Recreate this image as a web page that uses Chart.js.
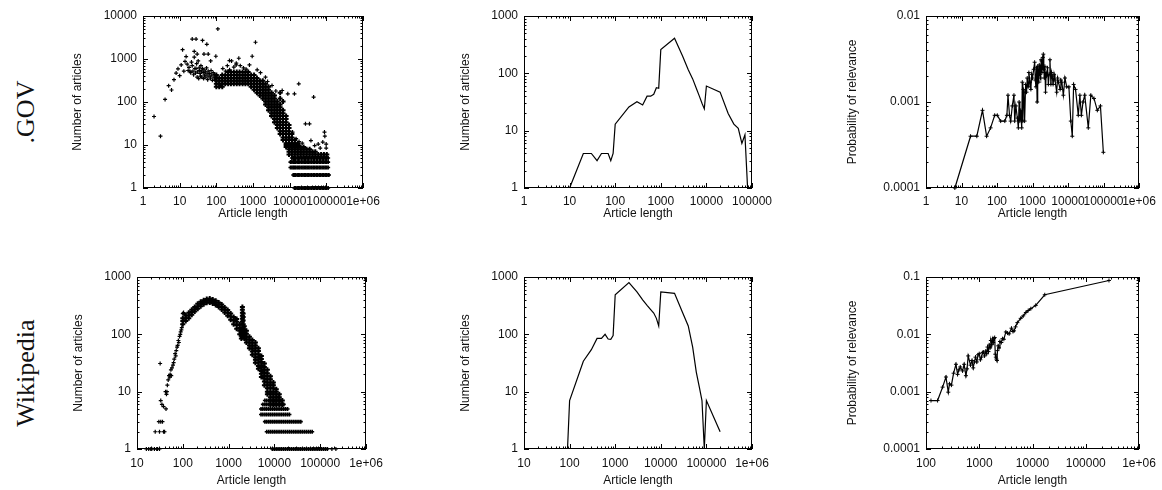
<!DOCTYPE html>
<html>
<head>
<meta charset="utf-8">
<script src="https://cdn.jsdelivr.net/npm/chart.js@4/dist/chart.umd.min.js"></script>
<style>
  body { margin: 0; background: #fff; width: 1162px; height: 490px; position: relative; overflow: hidden; }
  canvas { position: absolute; }
  .row { position: absolute; font-family: "Liberation Serif", serif; font-size: 26px; line-height: 26px;
         white-space: nowrap; color: #111; transform: translate(-50%, -50%) rotate(-90deg); }
</style>
</head>
<body>
<div class="row" style="left:26px; top:112px">.GOV</div>
<div class="row" style="left:26px; top:373px">Wikipedia</div>
<canvas id="govHist"></canvas>
<canvas id="govBins"></canvas>
<canvas id="govProb"></canvas>
<canvas id="wikiHist"></canvas>
<canvas id="wikiBins"></canvas>
<canvas id="wikiProb"></canvas>
<script>
// ---- data ----

// .GOV: articles per length (scatter). isolated points [length, count]
var govSparse = [[2,46],[3,16],[4,115],[5,240],[6,190],[7,330],[8,470],[9,590],[10,410],[11,730],[12,1650],[13,520],
  [14,880],[15,1140],[16,760],[17,540],[18,640],[19,520],[20,480],[21,850],[22,2900],[22,700],[23,520],[24,430],
  [25,1500],[25,1100],[26,600],[27,470],[28,2900],[28,600],[29,780],[30,1300],[30,380],[31,500],[32,900],[33,350],
  [34,620],[35,540],[36,460],[37,400],[38,700],[39,520],[40,380],[42,2700],[42,600],[44,480],[45,350],[46,1300],
  [46,560],[48,420],[50,500],[52,380],[54,620],[55,2200],[56,450],[58,330],[60,1300],[60,520],[63,400],[66,460],
  [69,360],[70,900],[72,540],[75,420],[78,320],[82,480],[86,380],[90,440],[94,330],[97,1160],[98,400],[110,5000],
  [133,242],[150,600],[180,520],[200,700],[228,920],[230,560],[260,900],[300,650],[347,730],[350,800],[410,1040],
  [450,700],[550,620],[650,580],[800,730],[950,1160],[1170,2450],[1300,560],[1600,480],[2190,378],[2500,300],
  [3300,242],[4200,180],[6250,185],[8890,155],[13500,155],[17700,264],[45000,130],[12000,20],[15000,14],[18000,12],
  [22000,11],[27000,31],[34700,31],[38000,12.7],[48000,9.7],[60000,10.5],[68000,8.5],[80000,11.7],[89000,20],
  [91000,16],[99000,10.5],[99000,8.5]];
// dense body: [length, counts seen at that length]
var govBody = [
  [100,[226,265,310,363,425]],[120,[226,265,310,363]],[145,[226,265,310,363,425]],[175,[265,310,363,425]],
  [210,[265,310,363,425,497]],[250,[265,310,363,425,497]],[300,[265,310,363,425,497]],[360,[265,310,363,425,497]],
  [430,[265,310,363,425,497]],[520,[265,310,363,425,497]],[620,[265,310,363,425,497]],[740,[265,310,363,425,497]],
  [890,[226,265,310,363,425]],[1070,[193,226,265,310,363,425]],[1280,[165,193,226,265,310,363]],
  [1540,[141,165,193,226,265,310]],[1850,[120,141,165,193,226,265,310]],[2200,[88,103,120,141,165,193,226,265]],
  [2650,[64,75,88,103,120,141,165,193,226]],[3200,[47,55,64,75,88,103,120,141,165]],
  [3850,[34,40,47,55,64,75,88,103,120,141]],[4600,[25,29,34,40,47,55,64,75,88,103]],
  [5500,[18,21,25,29,34,40,47,55,64,75,88,120,165]],[6600,[13,15,18,21,25,29,34,40,47,55,64,103]],
  [8000,[9,10,11,13,15,18,21,25,29,34,40,47]],[9600,[6,7,8,9,10,11,13,15,18,21,25,29]],
  [11500,[6,7,8,9,10,11,13,15,18]],[13800,[6,7,8,9,10,11,13]],[16600,[6,7,8,9,10,11]],[20000,[6,7,8,9]],
  [24000,[6,7,8,9]],[29000,[6,7,8]],[35000,[6,7,8]],[42000,[6,7]],[50000,[6,7]],[60000,[6]],[72000,[6]],
  [86000,[6]],[103000,[6]]];
// long articles: horizontal bands at small integer counts [count, from length, to length]
var govBandLengths = [10500,11500,12500,13500,14500,16000,17500,19000,21000,23000,25000,27500,30000,33000,36000,
  40000,44000,48000,53000,58000,64000,70000,77000,85000,93000,102000,112000,118000];
var govBandLevels = [[1,13000,115000],[2,12000,120000],[3,10500,117000],[4,10500,117000],[5,11000,112000]];

// .GOV: binned counts (line)
var govBinLength   = [10,20,30,40,50,70,80,90,100,200,300,400,500,600,700,800,900,1000,2000,3000,4000,5000,6000,
  7000,8000,9000,10000,20000,30000,40000,50000,60000,70000,80000];
var govBinArticles = [1,4,4,3,4,4,3,4,13,26,32,28,40,40,43,56,55,260,410,200,115,80,55,40,30,24,60,47,20,13,11,6,8.5,1];

// .GOV: probability of relevance (line + points)
var govProb = [[6.5,0.0001],[18,0.0004],[27,0.0004],[39,0.0008],[51,0.0004],[66,0.0005],[86,0.0007],[102,0.0007],
  [127,0.0006],[166,0.0006],[190,0.0007],[204,0.0012],[225,0.0007],[243,0.0006],[270,0.0009],[300,0.0012],
  [315,0.0006],[340,0.0009],[375,0.00065],[400,0.0005],[420,0.001],[440,0.0006],[465,0.0008],[497,0.0005],
  [516,0.0017],[535,0.0006],[555,0.0014],[573,0.0013],[600,0.0006],[640,0.0016],[680,0.0013],[710,0.0019],
  [750,0.0015],[790,0.0022],[851,0.0017],[900,0.0014],[950,0.0021],[1000,0.0019],[1080,0.0024],[1150,0.0029],
  [1200,0.0018],[1250,0.0015],[1300,0.0025],[1350,0.001],[1400,0.0026],[1450,0.0022],[1500,0.0017],[1550,0.0027],
  [1620,0.0021],[1700,0.0019],[1750,0.0031],[1800,0.003],[1850,0.0022],[1900,0.0025],[1950,0.0033],[2018,0.0036],
  [2080,0.0024],[2150,0.0019],[2230,0.0026],[2330,0.0013],[2420,0.0022],[2500,0.002],[2650,0.0025],[2800,0.0016],
  [2950,0.0021],[3100,0.0031],[3300,0.0016],[3450,0.0022],[3600,0.002],[3800,0.0016],[4050,0.0021],[4300,0.0018],
  [4800,0.0013],[5100,0.0019],[5400,0.0017],[6000,0.0014],[6300,0.0018],[6700,0.0017],[7400,0.0012],[8200,0.0019],
  [9200,0.0015],[10600,0.0015],[12000,0.0006],[13200,0.0004],[14400,0.0016],[16300,0.0014],[19500,0.0007],
  [21600,0.0012],[23800,0.0007],[26500,0.001],[29600,0.0012],[37300,0.0005],[44000,0.0012],[54000,0.0011],
  [67000,0.0008],[82000,0.0009],[99000,0.00026]];

// Wikipedia: articles per length (scatter)
var wikiSparse = [[16,1],[18,1],[20,1],[21,1],[24,1],[27,1],[28,1],[31,1],[25,2],[31,2],[38,2],[40,2],[30,3],[33,3],
  [36,3],[32,31],[33,7],[35,6],[38,5.5],[43,5],[42,10],[44,9],[45,10],[46,13],[48,16],[50,19],[52,18],[53,20],
  [55,24],[56,19],[58,26],[61,29],[63,32],[65,37],[68,46],[70,42],[72,52],[75,60],[77,64],[80,78],[82,72],[85,92],
  [88,100],[90,110],[93,120],[95,131],[98,150],[100,230],[104,240],[110,225],[107,176],[180000,1],[220000,1],
  [12000,8],[14000,7]];
var wikiBody = [
  [100,[150,170,190]],[116,[170,190,212]],[135,[190,212,238]],[157,[220,245,268]],[182,[250,275,300]],
  [212,[280,310,340]],[246,[310,340,370]],[286,[335,365,395]],[333,[355,385,415]],[387,[360,390,420]],
  [450,[345,375,405]],[523,[325,355,385]],[608,[300,330,360]],[707,[270,300,330]],[822,[240,268,295]],
  [956,[210,238,265]],[1110,[180,205,232]],[1290,[150,175,200]],[1500,[125,145,165,185]],[1750,[100,115,130,150]],
  [1900,[85,95,108,122]],[2000,[90,102,115,130,147,166,187,211,238,268,300]],[2080,[100,115,130,150,175,200,230]],
  [2200,[85,96,108,122,138]],[2450,[72,81,91,102,115]],[2850,[57,64,72,81,91]],[3300,[44,50,56,63,71,80]],
  [3850,[32,36,40,45,51,57,64,72]],[4480,[25,28,32,36,40,45,51,57]],[5200,[18,20.5,23,26,29,33,37,42]],
  [6050,[13,15,17,19,21.5,24,27,31]],[7030,[9,10,11.5,13,14.5,16.5,18.5,21,24]],
  [8180,[6,7,8,9,10,11.5,13,14.5,16.5,18.5]],[9500,[6,7,8,9,10,11.5,13,14.5]],[11000,[6,7,8,9,10,11]],
  [12800,[6,7,8,9]],[14900,[6,7]]];
var wikiBandLengths = [5100,5600,6200,6800,7500,8200,9000,9900,10900,12000,13200,14500,16000,17600,19400,21300,
  23400,25800,28400,31200,34300,37700,41500,45700,50200,55200,60800,66800,73500,80900,89000,97900,107700,118500,
  130300,143300];
var wikiBandLevels = [[1,9000,145000],[2,6500,68000],[3,5800,38000],[4,5100,22000],[5,5100,19500],[6,5600,17000],[7,6200,14000]];

// Wikipedia: binned counts (line)
var wikiBinLength   = [90,100,200,300,400,500,600,700,800,900,1000,2000,3000,4000,5000,6000,7000,8000,9000,10000,
  20000,30000,40000,50000,60000,70000,80000,90000,100000,200000];
var wikiBinArticles = [1,7,34,54,85,85,100,83,82,95,490,800,550,400,320,270,235,190,140,550,520,240,140,60,22,12,7,1,7,2];

// Wikipedia: probability of relevance (line + points)
var wikiProb = [[124,0.0007],[165,0.0007],[205,0.0012],[237,0.0018],[262,0.00098],[276,0.00137],[300,0.0013],
  [330,0.0021],[365,0.003],[392,0.002],[415,0.0024],[440,0.0027],[486,0.0023],[520,0.003],[562,0.0019],[590,0.0025],
  [620,0.0042],[685,0.0029],[730,0.0035],[770,0.0026],[810,0.0033],[850,0.004],[900,0.0033],[950,0.0044],
  [1000,0.0046],[1050,0.0036],[1100,0.004],[1150,0.0048],[1200,0.0049],[1260,0.0042],[1330,0.0051],[1380,0.0046],
  [1430,0.006],[1490,0.005],[1540,0.0065],[1600,0.0058],[1650,0.0078],[1720,0.0066],[1770,0.0083],[1830,0.0072],
  [1900,0.0085],[1950,0.0088],[2000,0.0045],[2050,0.004],[2100,0.0037],[2150,0.0035],[2200,0.0052],[2270,0.0063],
  [2350,0.0058],[2450,0.0075],[2600,0.0072],[2730,0.0084],[2900,0.0082],[3160,0.011],[3400,0.0105],[3640,0.0102],
  [4030,0.0128],[4300,0.0112],[4500,0.0115],[4800,0.0135],[5200,0.016],[6000,0.019],[6700,0.021],[7500,0.024],
  [8300,0.026],[9300,0.028],[11500,0.032],[17000,0.049],[273000,0.087]];

// tick labels
var lenTicks1   = [1, 10, 100, 1000, 10000, 100000, 1000000];
var lenTicks1b  = [1, 10, 100, 1000, 10000, 100000];
var lenTicks10  = [10, 100, 1000, 10000, 100000, 1000000];
var lenTicks100 = [100, 1000, 10000, 100000, 1000000];
var countTicks4 = [1, 10, 100, 1000, 10000];
var countTicks3 = [1, 10, 100, 1000];
var probTicksGov  = [0.0001, 0.001, 0.01];
var probTicksWiki = [0.0001, 0.001, 0.01, 0.1];

// ---- drawing ----
var FONT = {family: '"Liberation Sans", Arial, sans-serif', size: 12};
var TXT = '#111';
var PAD_TOP = 10, PAD_RIGHT = 24;

function pairs(list) { return list.map(function (p) { return {x: p[0], y: p[1]}; }); }
function columns(cols) {
  var pts = [];
  cols.forEach(function (c) { c[1].forEach(function (y) { pts.push({x: c[0], y: y}); }); });
  return pts;
}
function bands(lengths, levels) {
  var pts = [];
  levels.forEach(function (lv) {
    lengths.forEach(function (x) { if (x >= lv[1] && x <= lv[2]) pts.push({x: x, y: lv[0]}); });
  });
  return pts;
}
function zip(xs, ys) { return xs.map(function (x, i) { return {x: x, y: ys[i]}; }); }

// '+' markers; dense parts get a heavier stroke so the crowded crosses merge like in the print
function dots(data, r, w) {
  return {data: data, showLine: false, pointStyle: 'cross', pointRadius: r, borderColor: '#000',
          borderWidth: w, clip: false};
}
function line(data, withPoints) {
  return {data: data, showLine: true, tension: 0, borderColor: '#000', borderWidth: 1.2,
          pointStyle: 'cross', pointRadius: withPoints ? 2 : 0, pointBorderWidth: 1, clip: false};
}

// gnuplot style: closed box with inward, mirrored log ticks
function logMarks(min, max) {
  var out = [];
  for (var e = Math.round(Math.log10(min)); e < Math.round(Math.log10(max)); e++) {
    for (var k = 1; k < 10; k++) out.push({v: k * Math.pow(10, e), major: k === 1});
  }
  out.push({v: max, major: true});
  return out;
}
var boxTicks = {
  id: 'boxTicks',
  afterDatasetsDraw: function (chart) {
    var ctx = chart.ctx, a = chart.chartArea, x = chart.scales.x, y = chart.scales.y;
    ctx.save();
    ctx.strokeStyle = '#000';
    ctx.lineWidth = 1;
    ctx.strokeRect(a.left + 0.5, a.top + 0.5, a.right - a.left - 1, a.bottom - a.top - 1);
    ctx.beginPath();
    logMarks(x.min, x.max).forEach(function (t) {
      var p = Math.round(x.getPixelForValue(t.v)) + 0.5, len = t.major ? 5 : 2.5;
      ctx.moveTo(p, a.bottom); ctx.lineTo(p, a.bottom - len);
      ctx.moveTo(p, a.top); ctx.lineTo(p, a.top + len);
    });
    logMarks(y.min, y.max).forEach(function (t) {
      var p = Math.round(y.getPixelForValue(t.v)) + 0.5, len = t.major ? 5 : 2.5;
      ctx.moveTo(a.left, p); ctx.lineTo(a.left + len, p);
      ctx.moveTo(a.right, p); ctx.lineTo(a.right - len, p);
    });
    ctx.stroke();
    ctx.restore();
  }
};

function axis(ticks, title, size, horizontal, pad) {
  return {
    type: 'logarithmic', min: ticks[0], max: ticks[ticks.length - 1],
    grid: {display: false, drawTicks: false}, border: {display: false},
    ticks: {autoSkip: false, maxRotation: 0, minRotation: 0, padding: pad, color: TXT, font: FONT,
            callback: function (v) { return v === 1000000 ? '1e+06' : String(v); }},
    title: {display: true, text: title, color: TXT, font: FONT, padding: 0},
    afterBuildTicks: function (s) { s.ticks = ticks.map(function (v) { return {value: v}; }); },
    afterFit: function (s) {
      if (horizontal) s.height = size; else s.width = size;
      s.paddingTop = s.paddingBottom = s.paddingLeft = s.paddingRight = 0;
    }
  };
}

function panel(id, box, xTicks, yTicks, yTitle, datasets) {
  var cv = document.getElementById(id);
  cv.width = box.W + (box.R - box.L) + PAD_RIGHT;
  cv.height = PAD_TOP + (box.B - box.T) + box.H;
  cv.style.left = (box.L - box.W) + 'px';
  cv.style.top = (box.T - PAD_TOP) + 'px';
  return new Chart(cv, {
    type: 'scatter',
    data: {datasets: datasets},
    options: {
      responsive: false, animation: false, devicePixelRatio: 1,
      layout: {padding: {top: PAD_TOP, right: PAD_RIGHT, left: 0, bottom: 0}},
      plugins: {legend: {display: false}, tooltip: {enabled: false}},
      scales: {
        x: axis(xTicks, 'Article length', box.H, true, box.xPad),
        y: axis(yTicks, yTitle, box.W, false, 6)
      }
    },
    plugins: [boxTicks]
  });
}

panel('govHist', {L: 143, R: 363, T: 16, B: 188, W: 73, H: 33, xPad: 6.5}, lenTicks1, countTicks4,
  'Number of articles',
  [dots(pairs(govSparse), 2, 1.2), dots(columns(govBody), 2.5, 2), dots(bands(govBandLengths, govBandLevels), 2, 1.6)]);
panel('govBins', {L: 524, R: 752, T: 16, B: 188, W: 66, H: 33, xPad: 6.5}, lenTicks1b, countTicks3,
  'Number of articles', [line(zip(govBinLength, govBinArticles), false)]);
panel('govProb', {L: 926, R: 1139, T: 16, B: 188, W: 81, H: 33, xPad: 6.5}, lenTicks1, probTicksGov,
  'Probability of relevance', [line(pairs(govProb), true)]);
panel('wikiHist', {L: 137, R: 366, T: 277, B: 449, W: 66, H: 39, xPad: 7}, lenTicks10, countTicks3,
  'Number of articles',
  [dots(pairs(wikiSparse), 2, 1.2), dots(columns(wikiBody), 2.5, 2), dots(bands(wikiBandLengths, wikiBandLevels), 2, 1.6)]);
panel('wikiBins', {L: 524, R: 752, T: 277, B: 449, W: 66, H: 39, xPad: 7}, lenTicks10, countTicks3,
  'Number of articles', [line(zip(wikiBinLength, wikiBinArticles), false)]);
panel('wikiProb', {L: 926, R: 1139, T: 277, B: 449, W: 81, H: 39, xPad: 7}, lenTicks100, probTicksWiki,
  'Probability of relevance', [line(pairs(wikiProb), true)]);
</script>
</body>
</html>
